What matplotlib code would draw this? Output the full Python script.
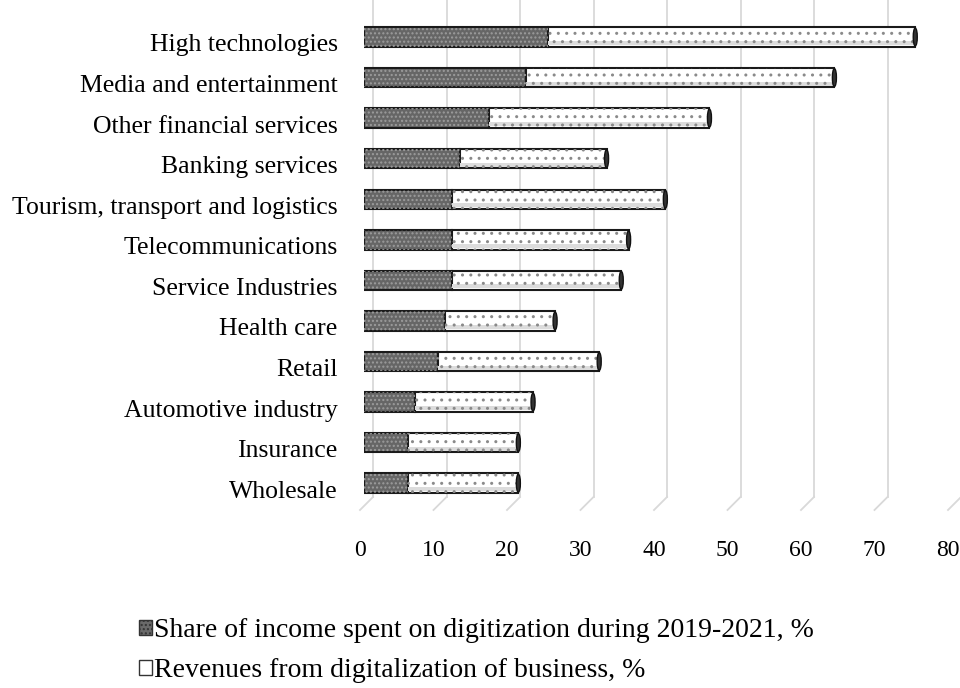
import matplotlib
matplotlib.use("Agg")
import matplotlib.pyplot as plt
import matplotlib.transforms as mtransforms
import numpy as np
from matplotlib.patches import Patch, Ellipse

plt.rcParams['font.family'] = ['Liberation Serif', 'DejaVu Serif']

# Industries, top to bottom as in the chart
industries = ["High technologies", "Media and entertainment", "Other financial services",
              "Banking services", "Tourism, transport and logistics", "Telecommunications",
              "Service Industries", "Health care", "Retail", "Automotive industry",
              "Insurance", "Wholesale"]

# Share of income spent on digitization during 2019-2021, %
share_spent = [25, 22, 17, 13, 12, 12, 12, 11, 10, 7, 6, 6]
# Revenues from digitalization of business, % (stacked after the first series)
revenues = [50, 42, 30, 20, 29, 24, 23, 15, 22, 16, 15, 15]

x_ticks = [0, 10, 20, 30, 40, 50, 60, 70, 80]

label_share = "Share of income spent on digitization during 2019-2021, %"
label_rev = "Revenues from digitalization of business, %"

fig = plt.figure(figsize=(9.6, 6.88), dpi=100)
# axes placed in pixel terms of the 960x688 picture
ax = fig.add_axes([364 / 960, 1 - 497 / 688, (952 - 364) / 960, 497 / 688])

y = np.arange(len(industries))
totals = np.array(share_spent) + np.array(revenues)
h = 0.48

# dark segment: fill + outline, then hatch drawn on top
ax.barh(y, share_spent, height=h, color="#666666", edgecolor="#1a1a1a", linewidth=1.5, zorder=3)
ax.barh(y, share_spent, height=h, color="none", edgecolor="#9c9c9c", hatch="....", linewidth=0, zorder=4)

# white segment stacked after it, with a faint shade along the bottom (cylinder look)
ax.barh(y, revenues, left=share_spent, height=h, color="white", edgecolor="#1a1a1a", linewidth=1.5, zorder=3)
ax.barh(y + 0.15, revenues, left=share_spent, height=0.1, color="#dcdcdc", linewidth=0, zorder=3.5)
ax.barh(y, revenues, left=share_spent, height=h, color="none", edgecolor="#8a8a8a", hatch="..", linewidth=0, zorder=4)

# dark end caps
for yi, t in zip(y, totals):
    ax.add_patch(Ellipse((t, yi), 0.55, h * 0.92, facecolor="#333333", edgecolor="#111111", lw=1, zorder=5))

ax.set_xlim(0, 80)
ax.set_ylim(11.34, -0.912)
ax.set_xticks(x_ticks)
ax.set_yticks(y)
ax.set_yticklabels(industries)
ax.tick_params(axis="y", length=0, pad=19, labelsize=18.5)
ax.tick_params(axis="x", length=0, pad=31, labelsize=17)
ax.grid(False)
for s in ax.spines.values():
    s.set_visible(False)

# labels sit a little lower / left than the bars (3D chart look)
down = mtransforms.ScaledTranslation(0, -6 / 100, fig.dpi_scale_trans)
for lab in ax.get_yticklabels():
    lab.set_transform(lab.get_transform() + down)
left = mtransforms.ScaledTranslation(-4 / 100, 0, fig.dpi_scale_trans)
for lab in ax.get_xticklabels():
    lab.set_transform(lab.get_transform() + left)

# back-wall gridlines, shifted right, with short floor lines going down-left
back = ax.get_xaxis_transform() + mtransforms.ScaledTranslation(9 / 100, 0, fig.dpi_scale_trans)
floor = ax.get_xaxis_transform() + mtransforms.ScaledTranslation(-4 / 100, -13 / 100, fig.dpi_scale_trans)
for xt in x_ticks:
    ax.plot([xt, xt], [0, 1], transform=back, color="#d9d9d9", lw=1.3, zorder=0, clip_on=False)
    x0, y0 = back.transform((xt, 0))
    x1, y1 = floor.transform((xt, 0))
    fig.add_artist(plt.Line2D([x0 / 960, x1 / 960], [y0 / 688, y1 / 688], color="#d9d9d9", lw=1.3,
                              transform=fig.transFigure))

handles = [Patch(facecolor="#6a6a6a", edgecolor="#333333", hatch="...."),
           Patch(facecolor="white", edgecolor="#333333")]
fig.legend(handles, [label_share, label_rev], loc="upper left",
           bbox_to_anchor=(139 / 960, 1 - 618 / 688), frameon=False, fontsize=20,
           handlelength=0.45, handleheight=0.45, handletextpad=0.1, labelspacing=0.55,
           borderaxespad=0, borderpad=0)

fig.savefig("out.png", dpi=100)
